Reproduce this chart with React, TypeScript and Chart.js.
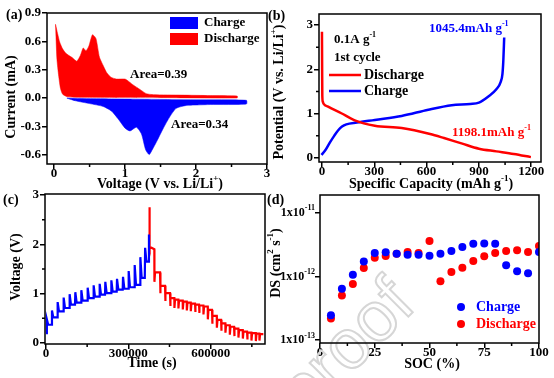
import React, { useEffect, useRef } from 'react';
import { Chart, registerables } from 'chart.js';
Chart.register(...registerables);

const W = 554;
const H = 378;
const SERIF = '"Liberation Serif", "Times New Roman", Times, serif';
const BLUE = '#0000ff';
const RED = '#ff0000';

// ---------- (a) CV areas: [voltage, current] ----------
const cvDischargeUpper = [[0.02,0.78],[0.05,0.68],[0.08,0.59],[0.12,0.52],[0.17,0.47],[0.25,0.43],[0.32,0.39],[0.37,0.45],[0.41,0.53],[0.45,0.50],[0.49,0.55],[0.54,0.67],[0.59,0.63],[0.64,0.43],[0.70,0.33],[0.74,0.27],[0.80,0.22],[0.88,0.20],[1.00,0.20],[1.06,0.17],[1.11,0.14],[1.21,0.09],[1.30,0.045],[1.40,0.035],[1.80,0.03],[2.20,0.025],[2.58,0.02]];
const cvDischargeLower = [[2.58,0.0],[1.50,0.003],[0.50,0.006],[0.19,0.012],[0.12,0.04],[0.09,0.10],[0.065,0.23],[0.04,0.41],[0.02,0.78]];
const cvChargeUpper = [[0.18,-0.002],[0.60,-0.008],[1.20,-0.013],[2.00,-0.02],[2.71,-0.025]];
const cvChargeLower = [[2.71,-0.065],[2.20,-0.07],[2.00,-0.075],[1.86,-0.08],[1.72,-0.11],[1.63,-0.20],[1.54,-0.32],[1.44,-0.47],[1.39,-0.54],[1.34,-0.60],[1.29,-0.55],[1.23,-0.38],[1.16,-0.31],[1.07,-0.35],[1.00,-0.32],[0.90,-0.22],[0.81,-0.14],[0.69,-0.09],[0.50,-0.06],[0.30,-0.03],[0.18,-0.002]];
const aXTicks = [0, 1, 2, 3];
const aYTicks = [-0.6, -0.3, 0, 0.3, 0.6, 0.9];
const aXMinor = [0.5, 1.5, 2.5];

// ---------- (b) galvanostatic curves: [capacity, potential] ----------
const gcdDischarge = [[0,2.85],[1,2.0],[2,1.4],[5,1.27],[10,1.22],[35,1.16],[111,1.01],[188,0.85],[303,0.73],[457,0.675],[620,0.54],[700,0.45],[800,0.33],[900,0.21],[1000,0.15],[1100,0.09],[1198,0.02]];
const gcdCharge = [[-3,0.07],[20,0.18],[44,0.34],[70,0.5],[92,0.62],[115,0.71],[140,0.76],[200,0.80],[303,0.86],[457,0.95],[610,1.09],[744,1.19],[850,1.22],[900,1.25],[954,1.39],[1000,1.55],[1025,1.72],[1035,1.9],[1040,2.2],[1045,2.72]];
const bXTicks = [0, 300, 600, 900, 1200];
const bYTicks = [0, 1, 2, 3];
const bXMinor = [150, 450, 750, 1050];
const bYMinor = [0.5, 1.5, 2.5];

// ---------- (c) GITT ----------
const gittChargeTimes = [2000,20600,41300,63200,85000,105700,127600,150700,172500,194400,215000,237000,257600,279500,300100,322000,342600,360000,374000];
const gittChargePeaks = [0.48,0.66,0.83,0.92,0.99,1.03,1.07,1.12,1.17,1.2,1.24,1.27,1.3,1.34,1.46,1.58,1.74,1.93,2.2];
const gittChargeRelaxed = [0.37,0.52,0.64,0.71,0.78,0.82,0.86,0.91,0.94,0.98,1.01,1.04,1.08,1.1,1.13,1.18,1.32,1.65];
const gittChargeStart = 0.2;
const gittSpikeTimes = [375500, 376500, 378500];
const gittSpikeValues = [2.0, 2.75, 1.95];
const gittDischargeTimes = [394800,415600,433800,452000,467700,482300,498200,512900,527400,543100,557700,573500,589400,605000,622300,638000,653600,669600,685300,701000,717000,732700,748400,764400,777500];
const gittDischargeBottoms = [1.24,1.01,0.85,0.75,0.71,0.70,0.68,0.66,0.645,0.63,0.61,0.58,0.48,0.39,0.31,0.25,0.21,0.17,0.14,0.11,0.09,0.07,0.05,0.04,0.05];
const gittDischargePlateaus = [1.43,1.16,1.01,0.91,0.88,0.86,0.84,0.82,0.80,0.78,0.76,0.74,0.67,0.55,0.47,0.40,0.36,0.33,0.29,0.26,0.23,0.21,0.20,0.19,0.18];
const gittEndTime = 792000;
const cXTicks = [0, 300000, 600000];
const cYTicks = [0, 1, 2, 3];
const cXMinor = [150000, 450000, 750000];
const cYMinor = [0.5, 1.5, 2.5];

// ---------- (d) diffusion coefficient ----------
const socValues = [5,10,15,20,25,30,35,40,45,50,55,60,65,70,75,80,85,90,95,100];
const dsCharge = [2.46e-13,6.4e-13,1.06e-12,1.72e-12,2.33e-12,2.39e-12,2.27e-12,2.19e-12,2.18e-12,2.12e-12,2.27e-12,2.5e-12,2.9e-12,3.27e-12,3.3e-12,3.27e-12,1.5e-12,1.21e-12,1.12e-12,2.42e-12];
const dsDischarge = [2.18e-13,5.0e-13,7.6e-13,1.35e-12,1.97e-12,2.09e-12,2.27e-12,2.42e-12,2.33e-12,3.6e-12,8.4e-13,1.17e-12,1.37e-12,1.74e-12,2.07e-12,2.33e-12,2.5e-12,2.57e-12,2.42e-12,3.0e-12];
const dXTicks = [0, 25, 50, 75, 100];
const dYTicks = [1e-13, 1e-12, 1e-11];
const dYLabels = ['-13', '-12', '-11'];
const dXMinor = [12.5, 37.5, 62.5, 87.5];

// ---------- helpers ----------
const toPts = (arr: number[][]) => arr.map(([x, y]) => ({ x, y }));

function buildGittCharge() {
  const pts = [{ x: 0, y: gittChargeStart }];
  let level = gittChargeStart;
  gittChargeTimes.forEach((t, i) => {
    pts.push({ x: t, y: level });
    pts.push({ x: t + 1200, y: gittChargePeaks[i] });
    if (i < gittChargeRelaxed.length) {
      level = gittChargeRelaxed[i];
      pts.push({ x: t + 6000, y: level });
    }
  });
  return pts;
}

function buildGittDischarge() {
  const pts = gittSpikeTimes.map((t, i) => ({ x: t, y: gittSpikeValues[i] }));
  let level = 1.9;
  gittDischargeTimes.forEach((t, i) => {
    pts.push({ x: t, y: level });
    pts.push({ x: t + 300, y: gittDischargeBottoms[i] });
    level = gittDischargePlateaus[i];
    pts.push({ x: t + 2500, y: level });
  });
  pts.push({ x: gittEndTime, y: level });
  return pts;
}

type Seg = [string, boolean?];
function drawRich(ctx: CanvasRenderingContext2D, segs: Seg[], x: number, y: number, size: number, color: string, align: 'left' | 'center' | 'right' = 'left', rot = 0) {
  ctx.save();
  ctx.translate(x, y);
  if (rot) ctx.rotate(rot);
  const main = `bold ${size}px ${SERIF}`;
  const sup = `bold ${Math.round(size * 0.65)}px ${SERIF}`;
  let total = 0;
  for (const [t, s] of segs) { ctx.font = s ? sup : main; total += ctx.measureText(t).width; }
  let cx = align === 'left' ? 0 : align === 'center' ? -total / 2 : -total;
  ctx.fillStyle = color;
  ctx.textBaseline = 'middle';
  ctx.textAlign = 'left';
  for (const [t, s] of segs) {
    ctx.font = s ? sup : main;
    ctx.fillText(t, cx, s ? -size * 0.38 : 0);
    cx += ctx.measureText(t).width;
  }
  ctx.restore();
}

function drawFrame(chart: any) {
  const { ctx, chartArea: a } = chart;
  ctx.save();
  ctx.strokeStyle = '#000';
  ctx.lineWidth = 1.5;
  ctx.strokeRect(a.left, a.top, a.right - a.left, a.bottom - a.top);
  ctx.restore();
}

function drawMinor(chart: any, axis: 'x' | 'y', values: number[]) {
  const { ctx, chartArea: a } = chart;
  const s = chart.scales[axis];
  ctx.save();
  ctx.strokeStyle = '#000';
  ctx.lineWidth = 1.5;
  ctx.beginPath();
  for (const v of values) {
    const p = s.getPixelForValue(v);
    if (axis === 'x') { ctx.moveTo(p, a.bottom); ctx.lineTo(p, a.bottom + 3); }
    else { ctx.moveTo(a.left - 3, p); ctx.lineTo(a.left, p); }
  }
  ctx.stroke();
  ctx.restore();
}

function makeScale(o: { type?: string; axis: 'x' | 'y'; min: number; max: number; ticks: number[]; fmt?: (v: number) => string }) {
  return {
    type: o.type || 'linear',
    min: o.min,
    max: o.max,
    afterBuildTicks: (s: any) => { s.ticks = o.ticks.map((v) => ({ value: v })); },
    afterFit: (s: any) => {
      if (o.axis === 'x') s.height = 20; else s.width = 40;
      s.paddingLeft = 0; s.paddingRight = 0; s.paddingTop = 0; s.paddingBottom = 0;
    },
    grid: { display: true, drawOnChartArea: false, drawTicks: true, tickLength: 5, tickWidth: 1.5, tickColor: '#000', color: '#000', lineWidth: 1.5 },
    border: { display: false },
    ticks: {
      color: '#000',
      font: { family: SERIF, size: 13, weight: 'bold' },
      padding: o.axis === 'x' ? -3 : 1,
      maxRotation: 0,
      autoSkip: false,
      callback: (v: any) => (o.fmt ? o.fmt(Number(v)) : String(v)),
    },
  };
}

function baseOptions(area: { L: number; R: number; T: number; B: number }, x: any, y: any) {
  return {
    responsive: false,
    animation: false,
    devicePixelRatio: 1,
    events: [],
    layout: { padding: { left: area.L - 40, right: W - area.R, top: area.T, bottom: H - area.B - 20 } },
    plugins: { legend: { display: false }, tooltip: { enabled: false } },
    scales: { x, y },
  };
}

// ---------- chart configs ----------
function configA(): any {
  return {
    type: 'scatter',
    data: {
      datasets: [
        { data: toPts([...cvChargeUpper, ...cvChargeLower]), showLine: true, fill: 'shape', tension: 0.2, backgroundColor: BLUE, borderColor: BLUE, borderWidth: 0.5, pointRadius: 0 },
        { data: toPts([...cvDischargeUpper, ...cvDischargeLower]), showLine: true, fill: 'shape', tension: 0.2, backgroundColor: RED, borderColor: RED, borderWidth: 0.5, pointRadius: 0 },
      ],
    },
    options: baseOptions(
      { L: 47, R: 267, T: 13, B: 164 },
      makeScale({ axis: 'x', min: -0.1, max: 3, ticks: aXTicks }),
      makeScale({ axis: 'y', min: -0.7, max: 0.9, ticks: aYTicks, fmt: (v) => v.toFixed(1) })
    ),
    plugins: [{
      id: 'decoA',
      afterDraw(chart: any) {
        const ctx = chart.ctx;
        drawFrame(chart);
        drawMinor(chart, 'x', aXMinor);
        ctx.save();
        ctx.fillStyle = BLUE; ctx.fillRect(170, 17, 28, 12);
        ctx.fillStyle = RED; ctx.fillRect(170, 33, 28, 12);
        ctx.restore();
        drawRich(ctx, [['Charge']], 204, 23, 13, '#000');
        drawRich(ctx, [['Discharge']], 204, 39, 13, '#000');
        drawRich(ctx, [['Area=0.39']], 130, 75, 13, '#000');
        drawRich(ctx, [['Area=0.34']], 171, 125, 13, '#000');
        drawRich(ctx, [['(a)']], 6, 15, 14, '#000');
        drawRich(ctx, [['Current (mA)']], 11, 97, 14, '#000', 'center', -Math.PI / 2);
        drawRich(ctx, [['Voltage (V vs. Li/Li'], ['+', true], [')']], 160, 184, 14, '#000', 'center');
      },
    }],
  };
}

function configB(): any {
  return {
    type: 'scatter',
    data: {
      datasets: [
        { data: toPts(gcdDischarge), showLine: true, cubicInterpolationMode: 'monotone', borderColor: RED, borderWidth: 2.5, pointRadius: 0 },
        { data: toPts(gcdCharge), showLine: true, cubicInterpolationMode: 'monotone', borderColor: BLUE, borderWidth: 2.5, pointRadius: 0 },
      ],
    },
    options: baseOptions(
      { L: 319, R: 541, T: 14, B: 162 },
      makeScale({ axis: 'x', min: -17, max: 1256, ticks: bXTicks }),
      makeScale({ axis: 'y', min: -0.09, max: 3.25, ticks: bYTicks })
    ),
    plugins: [{
      id: 'decoB',
      afterDraw(chart: any) {
        const ctx = chart.ctx;
        drawFrame(chart);
        drawMinor(chart, 'x', bXMinor);
        drawMinor(chart, 'y', bYMinor);
        drawRich(ctx, [['0.1A g'], ['-1', true]], 334, 40, 13, '#000');
        drawRich(ctx, [['1st cycle']], 334, 58, 13, '#000');
        ctx.save();
        ctx.lineWidth = 2.5;
        ctx.strokeStyle = RED; ctx.beginPath(); ctx.moveTo(329, 75); ctx.lineTo(361, 75); ctx.stroke();
        ctx.strokeStyle = BLUE; ctx.beginPath(); ctx.moveTo(329, 91); ctx.lineTo(361, 91); ctx.stroke();
        ctx.restore();
        drawRich(ctx, [['Discharge']], 364, 75, 14, '#000');
        drawRich(ctx, [['Charge']], 364, 91, 14, '#000');
        drawRich(ctx, [['1045.4mAh g'], ['-1', true]], 429, 29, 13, BLUE);
        drawRich(ctx, [['1198.1mAh g'], ['-1', true]], 452, 133, 13, RED);
        drawRich(ctx, [['(b)']], 268, 16, 14, '#000');
        drawRich(ctx, [['Potential (V vs. Li/Li'], ['+', true], [')']], 279, 92, 14, '#000', 'center', -Math.PI / 2);
        drawRich(ctx, [['Specific Capacity (mAh g'], ['-1', true], [')']], 431, 184, 14, '#000', 'center');
      },
    }],
  };
}

function configC(): any {
  return {
    type: 'scatter',
    data: {
      datasets: [
        { data: buildGittCharge(), showLine: true, borderColor: BLUE, borderWidth: 2.2, pointRadius: 0 },
        { data: buildGittDischarge(), showLine: true, borderColor: RED, borderWidth: 2.2, pointRadius: 0 },
      ],
    },
    options: baseOptions(
      { L: 45, R: 265, T: 194, B: 344 },
      makeScale({ axis: 'x', min: -3600, max: 798000, ticks: cXTicks }),
      makeScale({ axis: 'y', min: -0.02, max: 3.02, ticks: cYTicks })
    ),
    plugins: [{
      id: 'decoC',
      afterDraw(chart: any) {
        const ctx = chart.ctx;
        drawFrame(chart);
        drawMinor(chart, 'x', cXMinor);
        drawMinor(chart, 'y', cYMinor);
        drawRich(ctx, [['(c)']], 3, 200, 14, '#000');
        drawRich(ctx, [['Voltage (V)']], 16, 267, 14, '#000', 'center', -Math.PI / 2);
        drawRich(ctx, [['Time (s)']], 152, 363, 14, '#000', 'center');
      },
    }],
  };
}

function configD(): any {
  return {
    type: 'scatter',
    data: {
      datasets: [
        { data: socValues.map((x, i) => ({ x, y: dsCharge[i] })), backgroundColor: BLUE, borderColor: BLUE, pointRadius: 4, borderWidth: 0 },
        { data: socValues.map((x, i) => ({ x, y: dsDischarge[i] })), backgroundColor: RED, borderColor: RED, pointRadius: 4, borderWidth: 0 },
      ],
    },
    options: baseOptions(
      { L: 320, R: 539, T: 195, B: 343 },
      makeScale({ axis: 'x', min: 0, max: 100, ticks: dXTicks }),
      makeScale({ type: 'logarithmic', axis: 'y', min: 9e-14, max: 1.9e-11, ticks: dYTicks, fmt: () => '' })
    ),
    plugins: [{
      id: 'decoD',
      beforeDatasetsDraw(chart: any) {
        const ctx = chart.ctx;
        ctx.save();
        ctx.translate(305, 420);
        ctx.rotate(-Math.PI / 4);
        ctx.font = `70px "Liberation Sans", Arial, sans-serif`;
        ctx.strokeStyle = '#d6d6d6';
        ctx.lineWidth = 2;
        ctx.strokeText('proof', 0, 0);
        ctx.restore();
      },
      afterDraw(chart: any) {
        const ctx = chart.ctx;
        drawFrame(chart);
        drawMinor(chart, 'x', dXMinor);
        const ys = chart.scales.y;
        dYTicks.forEach((v, i) => {
          drawRich(ctx, [['1x10'], [dYLabels[i], true]], 315, ys.getPixelForValue(v), 12, '#000', 'right');
        });
        ctx.save();
        ctx.fillStyle = BLUE; ctx.beginPath(); ctx.arc(461, 307, 4, 0, Math.PI * 2); ctx.fill();
        ctx.fillStyle = RED; ctx.beginPath(); ctx.arc(461, 324, 4, 0, Math.PI * 2); ctx.fill();
        ctx.restore();
        drawRich(ctx, [['Charge']], 476, 307, 14, BLUE);
        drawRich(ctx, [['Discharge']], 476, 324, 14, RED);
        drawRich(ctx, [['(d)']], 267, 200, 14, '#000');
        drawRich(ctx, [['DS (cm'], ['2', true], [' s'], ['-1', true], [')']], 276, 263, 14, '#000', 'center', -Math.PI / 2);
        drawRich(ctx, [['SOC (%)']], 432, 364, 14, '#000', 'center');
      },
    }],
  };
}

function Panel({ make }: { make: () => any }) {
  const ref = useRef<HTMLCanvasElement>(null);
  useEffect(() => {
    const chart = new Chart(ref.current as HTMLCanvasElement, make());
    return () => chart.destroy();
  }, [make]);
  return (
    <canvas
      ref={ref}
      width={W}
      height={H}
      style={{ position: 'absolute', left: 0, top: 0, width: W, height: H }}
    />
  );
}

export default function App() {
  return (
    <div style={{ position: 'absolute', left: 0, top: 0, width: W, height: H, background: '#fff', overflow: 'hidden' }}>
      <Panel make={configA} />
      <Panel make={configB} />
      <Panel make={configC} />
      <Panel make={configD} />
    </div>
  );
}
